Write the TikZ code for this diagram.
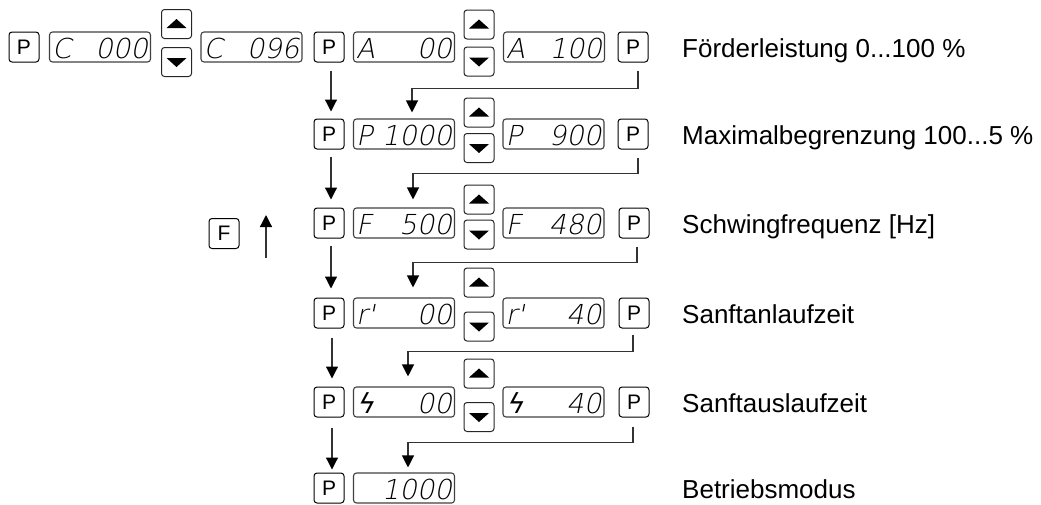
\documentclass[tikz,border=0pt]{standalone}
\usepackage{fontspec}
\setmainfont{Liberation Sans}
\newfontfamily\rampfont[FakeSlant=0.2]{DejaVu Sans}
\newfontfamily\segfont[FakeSlant=0.2]{DejaVu Sans ExtraLight}
\usetikzlibrary{arrows.meta,calc}
\tikzset{
  pbox/.style={draw=black, line width=1pt, rounded corners=3pt, minimum width=30pt, minimum height=30pt, inner sep=0pt, font=\fontsize{21}{21}\selectfont},
  dispbox/.style={draw=black!75, line width=1.1pt, rounded corners=3pt, minimum width=101pt, minimum height=30pt, inner sep=0pt},
  seg/.style={inner sep=0pt, font=\fontsize{27.5}{27.5}\segfont},
  btn/.style={draw=black!85, line width=1pt, rounded corners=3pt, minimum width=30pt, minimum height=29pt, inner sep=0pt},
  lbl/.style={anchor=base west, inner sep=0pt, font=\fontsize{26}{30}\selectfont},
  arr/.style={draw=black!80, line width=1.2pt, -{Triangle[length=12pt,width=12pt,fill=black,color=black]}},
}
\newcommand\mkdisp[5]{%
  \node[dispbox] (#1) at (#2,#3) {};
  \node[seg, anchor=base west] (#1-l) at ([xshift=3pt,yshift=-11pt]#1.west) {#4};
  \node[seg, anchor=base east] (#1-r) at ([xshift=-3pt,yshift=-11pt]#1.east) {#5};
}
\newcommand\mkup[3]{%
  \node[btn] (#1) at (#2,#3) {};
  \fill ($(#1.center)+(-10,4)$) -- ($(#1.center)+(10,4)$) -- ($(#1.center)+(0,-5)$) -- cycle;
}
\newcommand\mkdn[3]{%
  \node[btn] (#1) at (#2,#3) {};
  \fill ($(#1.center)+(-10,-4)$) -- ($(#1.center)+(10,-4)$) -- ($(#1.center)+(0,5)$) -- cycle;
}
\begin{document}
\begin{tikzpicture}[x=1pt,y=-1pt]
\useasboundingbox (0,0) rectangle (1041,504);

% ---------- row 1
\node[pbox] (p0) at (24,47) {P};
\mkdisp{d1a}{100}{47}{C}{000}
\mkup{u1a}{176.5}{24}
\mkdn{n1a}{176.5}{62}
\mkdisp{d1b}{251.5}{47}{C}{096}
\node[pbox] (p1) at (329,47) {P};
\mkdisp{d1c}{404}{47}{A}{00}
\mkup{u1}{479}{24.5}
\mkdn{n1}{479}{61.5}
\mkdisp{d1d}{554}{47}{A}{100}
\node[pbox] (q1) at (633,47) {P};
\node[lbl] (t1) at (682,57) {Förderleistung 0...100 \%};

% ---------- row 2
\node[pbox] (p2) at (329,134) {P};
\mkdisp{d2a}{404}{134}{P}{1000}
\mkup{u2}{479}{112.5}
\mkdn{n2}{479}{148}
\mkdisp{d2b}{553.5}{134}{P}{900}
\node[pbox] (q2) at (633,134) {P};
\node[lbl] (t2) at (682,144) {Maximalbegrenzung 100...5 \%};

% ---------- row 3
\node[pbox] (p3) at (329,223) {P};
\mkdisp{d3a}{404}{223}{F}{500}
\mkup{u3}{479}{199.5}
\mkdn{n3}{479}{234.5}
\mkdisp{d3b}{553.5}{223}{F}{480}
\node[pbox] (q3) at (634,223) {P};
\node[lbl] (t3) at (682,233) {Schwingfrequenz [Hz]};

% ---------- row 4
\node[pbox] (p4) at (329,313) {P};
\mkdisp{d4a}{404}{313}{r'}{00}
\mkup{u4}{479}{282.5}
\mkdn{n4}{479}{326.5}
\mkdisp{d4b}{553.5}{313}{r'}{40}
\node[pbox] (q4) at (634,313) {P};
\node[lbl] (t4) at (682,323) {Sanftanlaufzeit};

% ---------- row 5
\node[pbox] (p5) at (329,402) {P};
\mkdisp{d5a}{404}{402}{{\rampfont ϟ}}{00}
\mkup{u5}{479}{373.5}
\mkdn{n5}{479}{417}
\mkdisp{d5b}{553.5}{402}{{\rampfont ϟ}}{40}
\node[pbox] (q5) at (634,402) {P};
\node[lbl] (t5) at (682,412) {Sanftauslaufzeit};

% ---------- row 6
\node[pbox] (p6) at (329,488) {P};
\mkdisp{d6a}{404}{488}{}{1000}
\node[lbl] (t6) at (682,498) {Betriebsmodus};

% ---------- F key
\node[pbox] (fb) at (224,233.5) {F};
\coordinate (fa1) at (266,258);
\coordinate (fa2) at (266,215);
\draw[arr] (fa1) -- (fa2);

% ---------- left column arrows
\draw[arr] ([xshift=2pt,yshift=-8pt]p1.south) -- ([xshift=2pt,yshift=7pt]p2.north);
\draw[arr] ([xshift=2pt,yshift=-7pt]p2.south) -- ([xshift=2pt,yshift=8pt]p3.north);
\draw[arr] ([xshift=2pt,yshift=-7pt]p3.south) -- ([xshift=2pt,yshift=9pt]p4.north);
\draw[arr] ([xshift=3pt,yshift=-9pt]p4.south) -- ([xshift=3pt,yshift=8pt]p5.north);
\draw[arr] ([xshift=3pt,yshift=-10pt]p5.south) -- ([xshift=3pt,yshift=3pt]p6.north);

% ---------- right P back to next display
\draw[arr] ([xshift=5pt,yshift=-8pt]q1.south) -- ([xshift=5pt,yshift=-26pt]q1.south) -| ([xshift=8pt,yshift=6pt]d2a.north);
\draw[arr] ([xshift=5pt,yshift=-8pt]q2.south) -- ([xshift=5pt,yshift=-24pt]q2.south) -| ([xshift=9pt,yshift=8pt]d3a.north);
\draw[arr] ([xshift=3pt,yshift=-8pt]q3.south) -- ([xshift=3pt,yshift=-24pt]q3.south) -| ([xshift=9pt,yshift=10pt]d4a.north);
\draw[arr] ([xshift=-1pt,yshift=-6pt]q4.south) -- ([xshift=-1pt,yshift=-23pt]q4.south) -| ([xshift=4pt,yshift=10pt]d5a.north);
\draw[arr] ([xshift=-1pt,yshift=-9pt]q5.south) -- ([xshift=-1pt,yshift=-25pt]q5.south) -| ([xshift=4pt,yshift=5pt]d6a.north);
\end{tikzpicture}
\end{document}
